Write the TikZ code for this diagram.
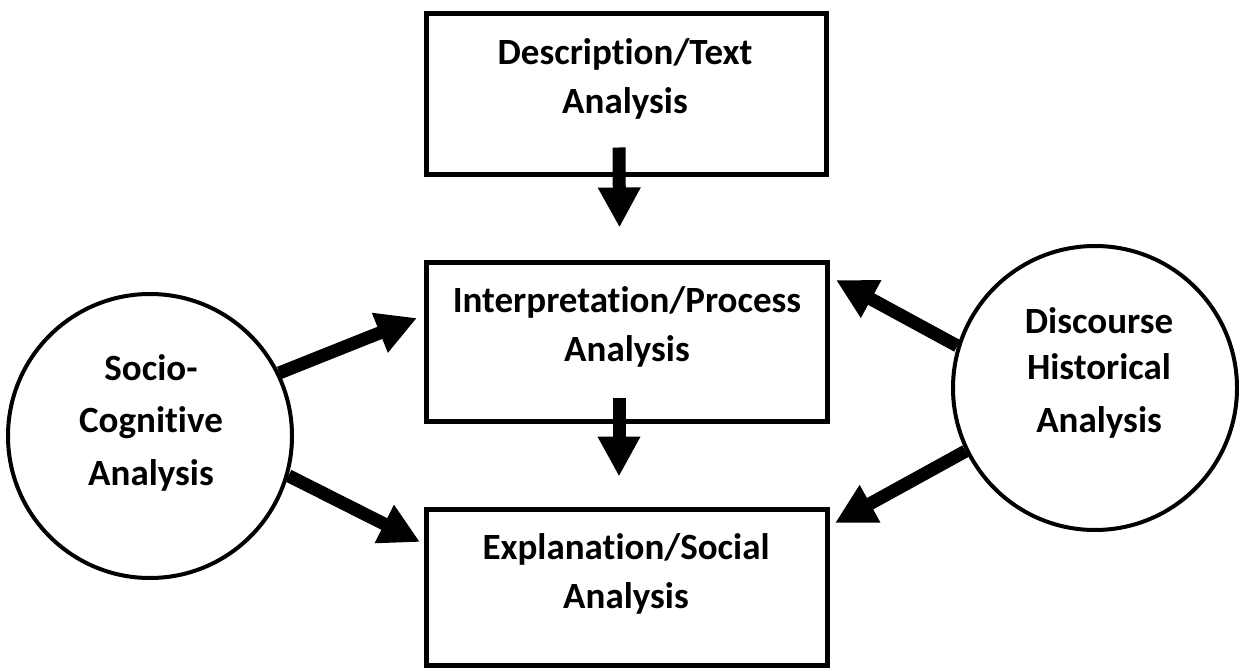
\documentclass[tikz,border=0pt]{standalone}
\usepackage{fontspec}
\setmainfont{Carlito}[Ligatures={NoCommon,NoContextual}]
\usetikzlibrary{arrows.meta}
\tikzset{
  box/.style={draw=black, line width=5pt, rectangle, inner sep=0pt, fill=none},
  ring/.style={draw=black, line width=4pt, circle, inner sep=0pt, minimum size=284pt},
  lbl/.style={font=\bfseries\fontsize{37}{49}\selectfont, align=center, inner sep=0pt, anchor=base},
  bigarrow/.style={line width=13pt, -{Triangle[length=40pt,width=40pt]}},
}
\begin{document}
\begin{tikzpicture}[x=1pt,y=-1pt]
\useasboundingbox (0,0) rectangle (1239,671);
% boxes
\node[box, minimum width=400pt, minimum height=161pt] (top) at (626,94.5) {};
\node[box, minimum width=401pt, minimum height=159pt] (mid) at (626.5,341.5) {};
\node[box, minimum width=401pt, minimum height=156pt] (bot) at (626.5,587) {};
% circles
\node[ring] (sc) at (150,436) {};
\node[ring] (dh) at (1095,388) {};
% labels (anchor base = baseline of the last line)
\node[lbl] (ttop) at (625,114) {Description/Text\\Analysis};
\node[lbl] (tmid) at (627,361) {Interpretation/Process\\Analysis};
\node[lbl] (tbot) at (626,608) {Explanation/Social\\Analysis};
\node[lbl, font=\bfseries\fontsize{37}{52.5}\selectfont] (tsc) at (151,485) {Socio-\\Cognitive\\Analysis};
\node[lbl, font=\bfseries\fontsize{37}{46}\selectfont] (tdh) at (1099,432) {Discourse\\Historical\\[7pt]Analysis};
% vertical arrows
\draw[bigarrow] ([xshift=-7pt,yshift=30pt]top.south) -- ([xshift=-7pt,yshift=32pt]mid.north);
\draw[bigarrow] ([xshift=-7.5pt,yshift=26pt]mid.south) -- ([xshift=-7.5pt,yshift=30pt]bot.north);
% side arrows
\draw[bigarrow] (sc.26) -- ([xshift=-6.5pt,yshift=23.5pt]mid.west);
\draw[bigarrow] (sc.-16.5) -- ([xshift=-3.5pt,yshift=45pt]bot.west);
\draw[bigarrow] (dh.163.5) -- ([xshift=6.5pt,yshift=61.5pt]mid.east);
\draw[bigarrow] (dh.206) -- ([xshift=5.5pt,yshift=64pt]bot.east);
\end{tikzpicture}
\end{document}
